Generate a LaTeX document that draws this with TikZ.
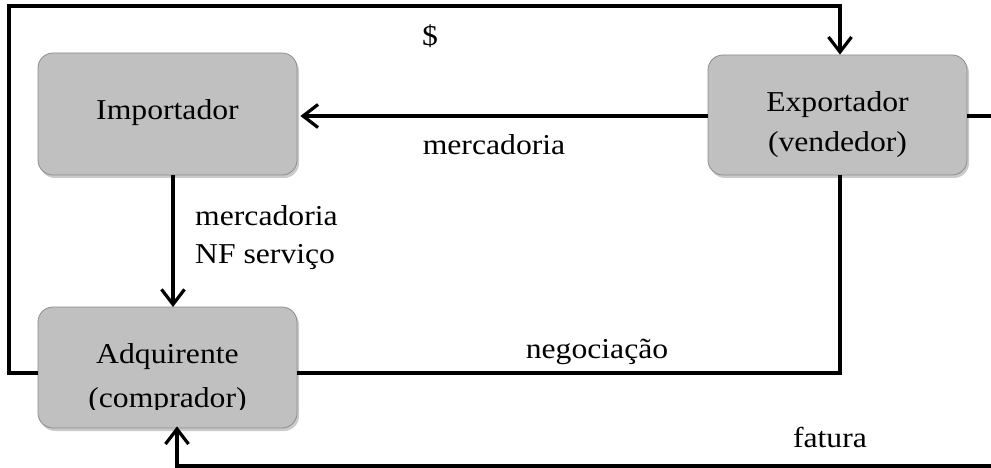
\documentclass[tikz,border=0pt]{standalone}
\usepackage{fontspec}
\setmainfont{Liberation Serif}[FakeStretch=1.1]
\usetikzlibrary{arrows.meta,shadows}
\definecolor{boxfill}{HTML}{C0C0C0}
\definecolor{boxline}{HTML}{8C8C8C}
\tikzset{
  actor/.style={draw=boxline, line width=0.8pt, fill=boxfill, rounded corners=15pt,
    drop shadow={shadow xshift=2pt, shadow yshift=-3pt, opacity=0.35, fill=black!60},
    align=center, inner sep=0pt},
  flow/.style={line width=3.2pt, line join=miter},
  tip/.style={-{Straight Barb[length=15pt,width=23pt,line width=3.2pt]}},
  lbl/.style={inner sep=0pt, anchor=base},
}
\begin{document}
\begin{tikzpicture}[x=1pt,y=-1pt, font=\fontsize{28.8}{38}\selectfont]
\useasboundingbox (0,0) rectangle (991,468);
% boxes
\node[actor, minimum width=259pt, minimum height=122pt] (imp) at (167.5,114) {};
\node[lbl] (impt) at (167.5,120) {Importador};
\node[actor, minimum width=259pt, minimum height=120pt] (exp) at (837.5,115) {};
\node[lbl] (expt1) at (837.5,112) {Exportador};
\node[lbl] (expt2) at (837.5,152) {(vendedor)};
\node[actor, minimum width=259pt, minimum height=121pt] (adq) at (167.5,367.5) {};
\node[lbl] (adqt1) at (167.5,363) {Adquirente};
\begin{scope}
\clip (38,300) rectangle (297,409);
\node[lbl] (adqt2) at (167.5,407) {(comprador)};
\end{scope}
% coordinates
\coordinate (tl) at (9,6);
\coordinate (tr) at (840,6);
\coordinate (ll) at (9,373);
\coordinate (nr) at (840,373);
\coordinate (fr) at (991,466);
\coordinate (fl) at (177,466);
\coordinate (er) at (991,116);
% connectors
\draw[flow,tip] (adq.west |- ll) -- (ll) -- (tl) -- (tr) -- (tr |- exp.north);
\draw[flow,tip] (exp.west |- er) -- ([xshift=3pt]imp.east |- er);
\draw[flow,tip] (173,175) -- (173,307);
\draw[flow] (adq.east |- ll) -- (nr) -- (nr |- exp.south);
\draw[flow,tip] (fr) -- (fl) -- ([yshift=2pt]fl |- adq.south);
\draw[flow] (exp.east |- er) -- (er);
% labels
\node[lbl] (dol) at (430,46) {\$};
\node[lbl] (m1) at (494,155) {mercadoria};
\node[lbl, anchor=base west] (m2) at (195,225) {mercadoria};
\node[lbl, anchor=base west] (m3) at (195,263) {NF serviço};
\node[lbl] (neg) at (597,358) {negociação};
\node[lbl] (fat) at (830,447) {fatura};
\end{tikzpicture}
\end{document}
